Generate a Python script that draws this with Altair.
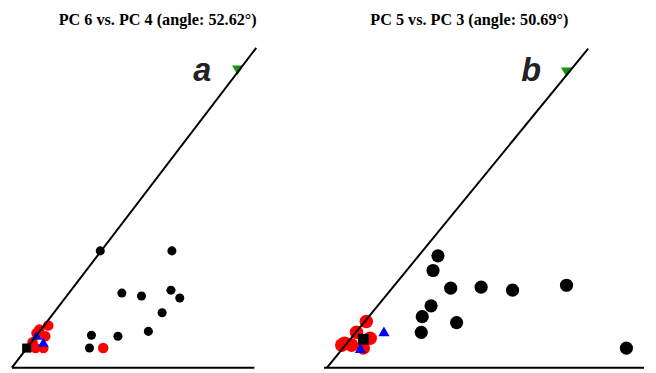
import math
import altair as alt
import pandas as pd

PX = 100.0  # pixels per data unit (equal aspect so the angle is kept)

titles = ["PC 6 vs. PC 4 (angle: 52.62°)", "PC 5 vs. PC 3 (angle: 50.69°)"]
angles = [52.62, 50.69]
letters = ["a", "b"]
line_len = [4.10, 4.20]

# ---- panel a values ----
a_black_x = [0.90, 1.63, 1.12, 1.32, 1.62, 1.71, 1.53, 1.39, 0.81, 1.08, 0.79]
a_black_y = [1.19, 1.19, 0.76, 0.73, 0.79, 0.71, 0.56, 0.37, 0.33, 0.32, 0.20]
a_red_x = [0.93, 0.37, 0.28, 0.25, 0.34, 0.21, 0.32, 0.24, 0.19]
a_red_y = [0.20, 0.43, 0.39, 0.35, 0.32, 0.26, 0.20, 0.20, 0.21]
a_blue_x = [0.25, 0.32]
a_blue_y = [0.33, 0.26]
a_sq_x = [0.15]
a_sq_y = [0.20]
a_green_x = [2.30]
a_green_y = [3.03]
a_base = [0.0, 2.47]
a_letter_xy = [1.94, 2.92]

# ---- panel b values ----
b_black_x = [1.13, 1.08, 1.26, 1.57, 1.89, 2.44, 1.06, 0.97, 1.32, 0.96, 3.05]
b_black_y = [1.14, 0.99, 0.81, 0.82, 0.79, 0.84, 0.63, 0.52, 0.46, 0.36, 0.20]
b_red_x = [0.40, 0.30, 0.44, 0.18, 0.25, 0.37, 0.15]
b_red_y = [0.47, 0.36, 0.30, 0.25, 0.23, 0.20, 0.23]
b_blue_x = [0.58, 0.34]
b_blue_y = [0.37, 0.20]
b_sq_x = [0.37]
b_sq_y = [0.29]
b_green_x = [2.44]
b_green_y = [3.01]
b_base = [-0.03, 3.23]
b_letter_xy = [2.08, 2.92]


def df(xs, ys):
    return pd.DataFrame({"x": xs, "y": ys})


def panel(i, black, red, blue, sq, green, base, letter_xy, width, height,
          xmin, black_size, red_size, blue_size, sq_size, title_dx):
    xs = alt.Scale(domain=[xmin, xmin + width / PX], nice=False, zero=False)
    ys = alt.Scale(domain=[0, height / PX], nice=False, zero=False)
    X = alt.X("x:Q", scale=xs, axis=None)
    Y = alt.Y("y:Q", scale=ys, axis=None)

    th = math.radians(angles[i])
    slant = df([0.0, line_len[i] * math.cos(th)], [0.0, line_len[i] * math.sin(th)])
    baseline = df(base, [0.0, 0.0])

    l_black = alt.Chart(df(*black)).mark_point(
        shape="circle", filled=True, color="black", opacity=1, size=black_size
    ).encode(x=X, y=Y)
    l_red = alt.Chart(df(*red)).mark_point(
        shape="circle", filled=True, color="#ff0000", opacity=1, size=red_size
    ).encode(x=X, y=Y)
    l_blue = alt.Chart(df(*blue)).mark_point(
        shape="triangle-up", filled=True, color="#0000ff", opacity=1, size=blue_size
    ).encode(x=X, y=Y)
    l_sq = alt.Chart(df(*sq)).mark_point(
        shape="square", filled=True, color="black", opacity=1, size=sq_size
    ).encode(x=X, y=Y)
    l_green = alt.Chart(df(*green)).mark_point(
        shape="triangle-down", filled=True, color="#119611", opacity=1, size=130
    ).encode(x=X, y=Y)
    l_slant = alt.Chart(slant).mark_line(color="black", strokeWidth=2).encode(x=X, y=Y)
    l_base = alt.Chart(baseline).mark_line(color="black", strokeWidth=2).encode(x=X, y=Y)
    l_letter = alt.Chart(pd.DataFrame({"x": [letter_xy[0]], "y": [letter_xy[1]],
                                       "t": [letters[i]]})).mark_text(
        font="Liberation Sans", fontSize=33, fontStyle="italic", fontWeight="bold",
        color="#222222", align="center", baseline="alphabetic"
    ).encode(x=X, y=Y, text="t:N")

    return alt.layer(
        l_black, l_red, l_blue, l_sq, l_green, l_slant, l_base, l_letter
    ).properties(
        width=width, height=height,
        title=alt.TitleParams(
            text=titles[i], font="Liberation Serif", fontSize=16.5, fontWeight="bold",
            color="black", anchor="middle", dx=title_dx, offset=8
        ),
    )


H = 338
pa = panel(0, (a_black_x, a_black_y), (a_red_x, a_red_y), (a_blue_x, a_blue_y),
           (a_sq_x, a_sq_y), (a_green_x, a_green_y), a_base, a_letter_xy,
           255, H, 0.0, 85, 115, 115, 85, 21)
pb = panel(1, (b_black_x, b_black_y), (b_red_x, b_red_y), (b_blue_x, b_blue_y),
           (b_sq_x, b_sq_y), (b_green_x, b_green_y), b_base, b_letter_xy,
           326, H, -0.03, 180, 190, 130, 121, -15)

chart = alt.hconcat(pa, pb, spacing=59).properties(padding=0).configure(
    background="white", view=alt.ViewConfig(stroke=None)
)

chart.save("out.html", embed_options={"renderer": "svg", "actions": False})
